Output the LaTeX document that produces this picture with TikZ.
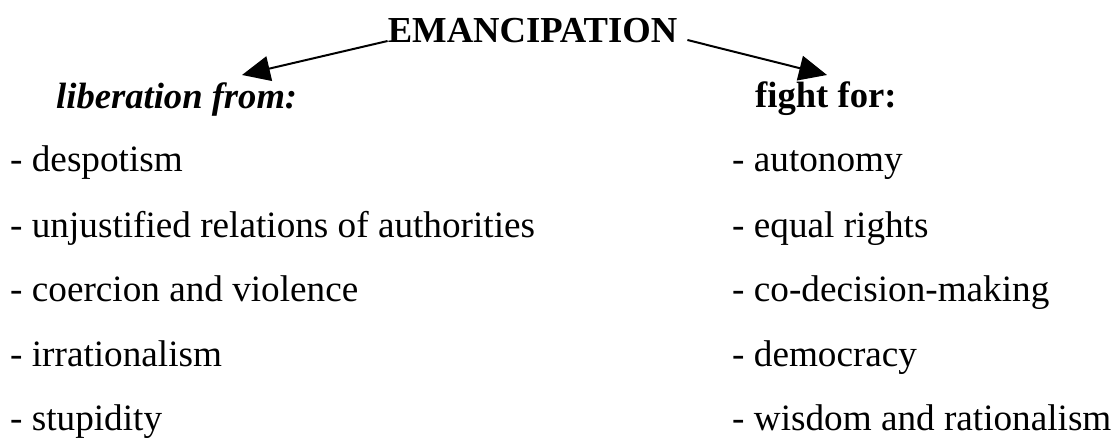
\documentclass[tikz,border=0pt]{standalone}
\usepackage{fontspec}
\setmainfont{Liberation Serif}
\usetikzlibrary{arrows.meta}
\tikzset{
  txt/.style={anchor=base west, inner sep=0pt, font=\fontsize{37.2}{44}\selectfont},
  head/.style={txt, font=\fontsize{36.6}{44}\selectfont\bfseries},
  conn/.style={line width=2pt, -{Triangle[length=28pt,width=25pt]}}
}
\begin{document}
\begin{tikzpicture}[x=1pt,y=-1pt]
\useasboundingbox (0,0) rectangle (1115,438);
\node[head, anchor=base] (title) at (532.5,43) {EMANCIPATION};
\node[head, font=\fontsize{36.6}{44}\selectfont\bfseries\itshape] (lib) at (56,109) {liberation from:};
\node[head] (fight) at (755,108) {fight for:};
\coordinate (lt) at (242,75);
\coordinate (rt) at (827,75);
\draw[conn] ([yshift=2pt]title.base west) -- (lt);
\draw[conn] ([xshift=10pt,yshift=3pt]title.base east) -- (rt);
\node[txt] (l1) at (10,172) {- despotism};
\node[txt] (l2) at (10,237) {- unjustified relations of authorities};
\node[txt] (l3) at (10,301) {- coercion and violence};
\node[txt] (l4) at (10,366) {- irrationalism};
\node[txt] (l5) at (10,430) {- stupidity};
\node[txt] (r1) at (732,172) {- autonomy};
\node[txt] (r2) at (732,237) {- equal rights};
\node[txt] (r3) at (732,301) {- co-decision-making};
\node[txt] (r4) at (732,366) {- democracy};
\node[txt] (r5) at (732,430) {- wisdom and rationalism};
\end{tikzpicture}
\end{document}
